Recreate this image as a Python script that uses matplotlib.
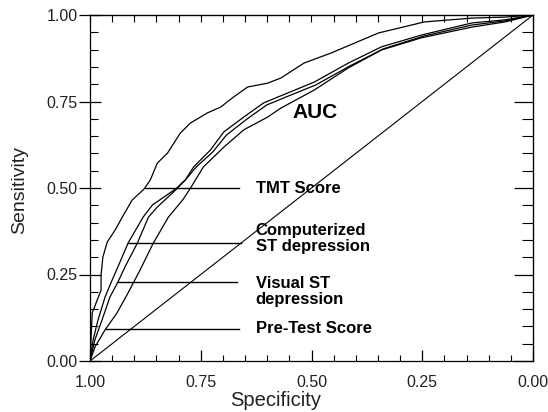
import matplotlib.pyplot as plt
from matplotlib.ticker import MultipleLocator

plt.rcParams['font.family'] = ['Liberation Sans', 'DejaVu Sans']

# ROC curves (specificity, sensitivity)
tmt_spec = [1.0, 0.995, 0.975, 0.975, 0.971, 0.961, 0.943, 0.927, 0.905, 0.878, 0.864,
            0.848, 0.825, 0.796, 0.773, 0.735, 0.705, 0.676, 0.644, 0.599, 0.569,
            0.517, 0.456, 0.349, 0.245, 0.138, 0.063, 0.0]
tmt_sens = [0.0, 0.139, 0.205, 0.249, 0.300, 0.344, 0.379, 0.416, 0.465, 0.497, 0.523,
            0.572, 0.601, 0.659, 0.688, 0.717, 0.734, 0.763, 0.792, 0.803, 0.818,
            0.861, 0.890, 0.948, 0.980, 0.991, 0.994, 1.0]

comp_spec = [1.0, 0.993, 0.982, 0.966, 0.950, 0.937, 0.914, 0.880, 0.859, 0.807, 0.785,
             0.766, 0.728, 0.698, 0.653, 0.608, 0.553, 0.494, 0.417, 0.342, 0.252,
             0.138, 0.063, 0.0]
comp_sens = [0.0, 0.061, 0.118, 0.185, 0.234, 0.272, 0.341, 0.416, 0.451, 0.497, 0.523,
             0.561, 0.610, 0.662, 0.705, 0.746, 0.775, 0.806, 0.861, 0.908, 0.942,
             0.977, 0.986, 1.0]

vis_spec = [1.0, 0.989, 0.973, 0.955, 0.937, 0.921, 0.893, 0.868, 0.848, 0.807, 0.785,
            0.760, 0.723, 0.692, 0.646, 0.601, 0.546, 0.490, 0.413, 0.338, 0.247,
            0.138, 0.063, 0.0]
vis_sens = [0.0, 0.061, 0.118, 0.185, 0.228, 0.272, 0.341, 0.416, 0.445, 0.494, 0.523,
            0.561, 0.604, 0.653, 0.699, 0.740, 0.769, 0.798, 0.853, 0.902, 0.939,
            0.971, 0.983, 1.0]

pre_spec = [1.0, 0.989, 0.966, 0.939, 0.914, 0.887, 0.857, 0.823, 0.791, 0.773, 0.744,
            0.698, 0.653, 0.599, 0.569, 0.494, 0.417, 0.342, 0.252, 0.138, 0.063, 0.0]
pre_sens = [0.0, 0.040, 0.090, 0.139, 0.197, 0.263, 0.341, 0.416, 0.465, 0.500, 0.561,
            0.618, 0.668, 0.705, 0.731, 0.783, 0.847, 0.899, 0.934, 0.965, 0.980, 1.0]

# label leader lines: (label, sensitivity, spec start, spec end)
labels = ["TMT Score", "Computerized\nST depression", "Visual ST\ndepression", "Pre-Test Score"]
label_sens = [0.50, 0.341, 0.228, 0.092]
label_text_sens = [0.50, 0.354, 0.200, 0.094]
line_start = [0.875, 0.914, 0.939, 0.964]
line_end = [0.664, 0.660, 0.669, 0.664]

fig = plt.figure(figsize=(5.48, 4.12), dpi=100)
ax = fig.add_axes([90 / 548, 51 / 412, 443 / 548, 346 / 412])

lw = 0.9
ax.plot([1, 0], [0, 1], color='black', lw=0.8)
for sp, se in [(tmt_spec, tmt_sens), (comp_spec, comp_sens),
               (vis_spec, vis_sens), (pre_spec, pre_sens)]:
    ax.plot(sp, se, color='black', lw=lw)

for lab, y, yt, x0, x1 in zip(labels, label_sens, label_text_sens, line_start, line_end):
    ax.plot([x0, x1], [y, y], color='black', lw=1.0)
    ax.text(0.626, yt, lab, ha='left', va='center', fontsize=12,
            fontweight='bold', linespacing=1.05)

ax.text(0.492, 0.717, "AUC", ha='center', va='center', fontsize=15, fontweight='bold')

ax.set_xlim(1, 0)
ax.set_ylim(0, 1)
ax.xaxis.set_major_locator(MultipleLocator(0.25))
ax.xaxis.set_minor_locator(MultipleLocator(0.05))
ax.yaxis.set_major_locator(MultipleLocator(0.25))
ax.yaxis.set_minor_locator(MultipleLocator(0.05))
ax.xaxis.set_major_formatter(lambda v, p: f"{v:.2f}")
ax.yaxis.set_major_formatter(lambda v, p: f"{v:.2f}")

ax.tick_params(axis='y', which='major', direction='inout', length=16, width=0.9,
               labelsize=11.5, pad=1, labelcolor='#222222')
ax.tick_params(axis='y', which='minor', direction='in', length=6, width=0.8)
ax.tick_params(axis='x', which='major', direction='in', length=8, width=0.9,
               labelsize=11.5, pad=10, labelcolor='#222222')
ax.tick_params(axis='x', which='minor', direction='in', length=4, width=0.8)

sec_y = ax.secondary_yaxis('right')
sec_y.yaxis.set_major_locator(MultipleLocator(0.25))
sec_y.yaxis.set_minor_locator(MultipleLocator(0.05))
sec_y.tick_params(which='major', direction='in', length=14, width=0.9, labelright=False)
sec_y.tick_params(which='minor', direction='in', length=8, width=0.8)

sec_x = ax.secondary_xaxis('top')
sec_x.xaxis.set_major_locator(MultipleLocator(0.25))
sec_x.xaxis.set_minor_locator(MultipleLocator(0.05))
sec_x.tick_params(which='both', direction='in', length=5, width=0.8, labeltop=False)

for s in ax.spines.values():
    s.set_linewidth(0.9)

fig.text(20 / 548, 1 - 190 / 412, "Sensitivity", rotation=90, ha='center', va='center',
         fontsize=14, color='#222222')
fig.text(276 / 548, 1 - 401 / 412, "Specificity", ha='center', va='center', fontsize=14.5,
         color='#222222')

fig.savefig("out.png", dpi=100)
